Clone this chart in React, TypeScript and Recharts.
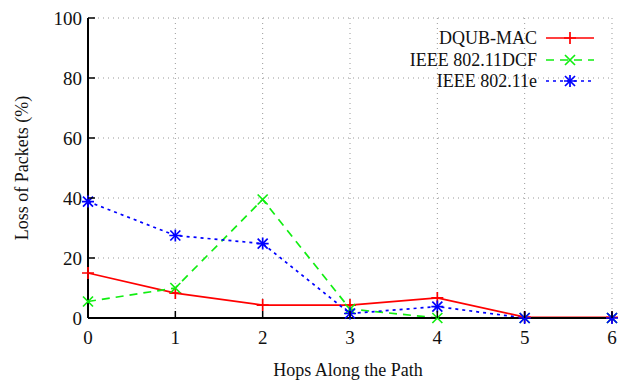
import React from "react";
import { LineChart, Line, XAxis, YAxis, CartesianGrid } from "recharts";

const hops = [0, 1, 2, 3, 4, 5, 6];
const dqub = [15, 8.3, 4.3, 4.3, 6.7, 0.3, 0.2];
const dcf = [5.5, 10, 39.5, 3, 0, 0, 0];
const e80211 = [38.8, 27.5, 24.8, 1.5, 3.8, 0, 0];
const yTicks = [0, 20, 40, 60, 80, 100];

const data = hops.map((h, i) => ({ hop: h, dqub: dqub[i], dcf: dcf[i], e: e80211[i] }));

const FONT = "'Liberation Serif', 'Times New Roman', Times, serif";
const RED = "#ff0000";
const GREEN = "#11ee11";
const BLUE = "#0000ff";

function Mark({ cx, cy, kind, color }: { cx: number; cy: number; kind: string; color: string }) {
  const p = 6, d = 5;
  const plus = <path d={`M${cx - p},${cy}H${cx + p}M${cx},${cy - p}V${cy + p}`} />;
  const cross = <path d={`M${cx - d},${cy - d}L${cx + d},${cy + d}M${cx - d},${cy + d}L${cx + d},${cy - d}`} />;
  return (
    <g stroke={color} strokeWidth={1.7} fill="none">
      {kind !== "x" && plus}
      {kind !== "+" && cross}
    </g>
  );
}

const dot = (kind: string, color: string) => (props: any) =>
  <Mark key={`${kind}-${props.index}`} cx={props.cx} cy={props.cy} kind={kind} color={color} />;

const XTick = ({ x, y, payload }: any) => (
  <g>
    <line x1={x} x2={x} y1={318} y2={311} stroke="#000" strokeWidth={1.5} />
    <text x={x} y={y} dy="0.71em" textAnchor="middle" fontFamily={FONT} fontSize={19} fill="#111">
      {payload.value}
    </text>
  </g>
);

const YTick = ({ x, y, payload }: any) => (
  <g>
    <line x1={88} x2={95} y1={y} y2={y} stroke="#000" strokeWidth={1.5} />
    <text x={x} y={y} dy="0.35em" textAnchor="end" fontFamily={FONT} fontSize={19} fill="#111">
      {payload.value}
    </text>
  </g>
);

const legendItems = [
  { name: "DQUB-MAC", color: RED, dash: undefined, kind: "+" },
  { name: "IEEE 802.11DCF", color: GREEN, dash: "8 6", kind: "x" },
  { name: "IEEE 802.11e", color: BLUE, dash: "3 4", kind: "*" },
];
const legendRows = [38, 60, 81];

export default function App() {
  return (
    <div style={{ position: "absolute", left: 0, top: 0, width: 618, height: 380, background: "#fff", fontFamily: FONT }}>
      <LineChart width={618} height={380} data={data} margin={{ top: 18, right: 6, left: 0, bottom: 0 }}>
        <CartesianGrid stroke="#999" strokeDasharray="1 4" />
        <XAxis
          dataKey="hop"
          type="number"
          domain={[0, 6]}
          ticks={hops}
          height={62}
          tickSize={0}
          tickMargin={13}
          tick={<XTick />}
          stroke="#000"
          strokeWidth={2}
        />
        <YAxis
          type="number"
          domain={[0, 100]}
          ticks={yTicks}
          width={88}
          tickSize={0}
          tickMargin={6}
          tick={<YTick />}
          stroke="#000"
          strokeWidth={2}
        />
        <Line dataKey="dqub" name="DQUB-MAC" stroke={RED} strokeWidth={1.7} dot={dot("+", RED)} isAnimationActive={false} />
        <Line dataKey="dcf" name="IEEE 802.11DCF" stroke={GREEN} strokeWidth={1.7} strokeDasharray="8 6" dot={dot("x", GREEN)} isAnimationActive={false} />
        <Line dataKey="e" name="IEEE 802.11e" stroke={BLUE} strokeWidth={1.7} strokeDasharray="3 4" dot={dot("*", BLUE)} isAnimationActive={false} />
      </LineChart>
      <svg width={618} height={380} style={{ position: "absolute", left: 0, top: 0, pointerEvents: "none" }}>
        <text x={348} y={376} textAnchor="middle" fontFamily={FONT} fontSize={18} fill="#111">
          Hops Along the Path
        </text>
        <text x={28} y={168} transform="rotate(-90 28 168)" textAnchor="middle" fontFamily={FONT} fontSize={18} fill="#111">
          Loss of Packets (%)
        </text>
        {legendItems.map((it, i) => (
          <g key={it.name}>
            <text x={537} y={legendRows[i]} dy="0.35em" textAnchor="end" fontFamily={FONT} fontSize={18} fill="#111">
              {it.name}
            </text>
            <line x1={546} x2={594} y1={legendRows[i]} y2={legendRows[i]} stroke={it.color} strokeWidth={1.7} strokeDasharray={it.dash} />
            <Mark cx={570} cy={legendRows[i]} kind={it.kind} color={it.color} />
          </g>
        ))}
      </svg>
    </div>
  );
}
